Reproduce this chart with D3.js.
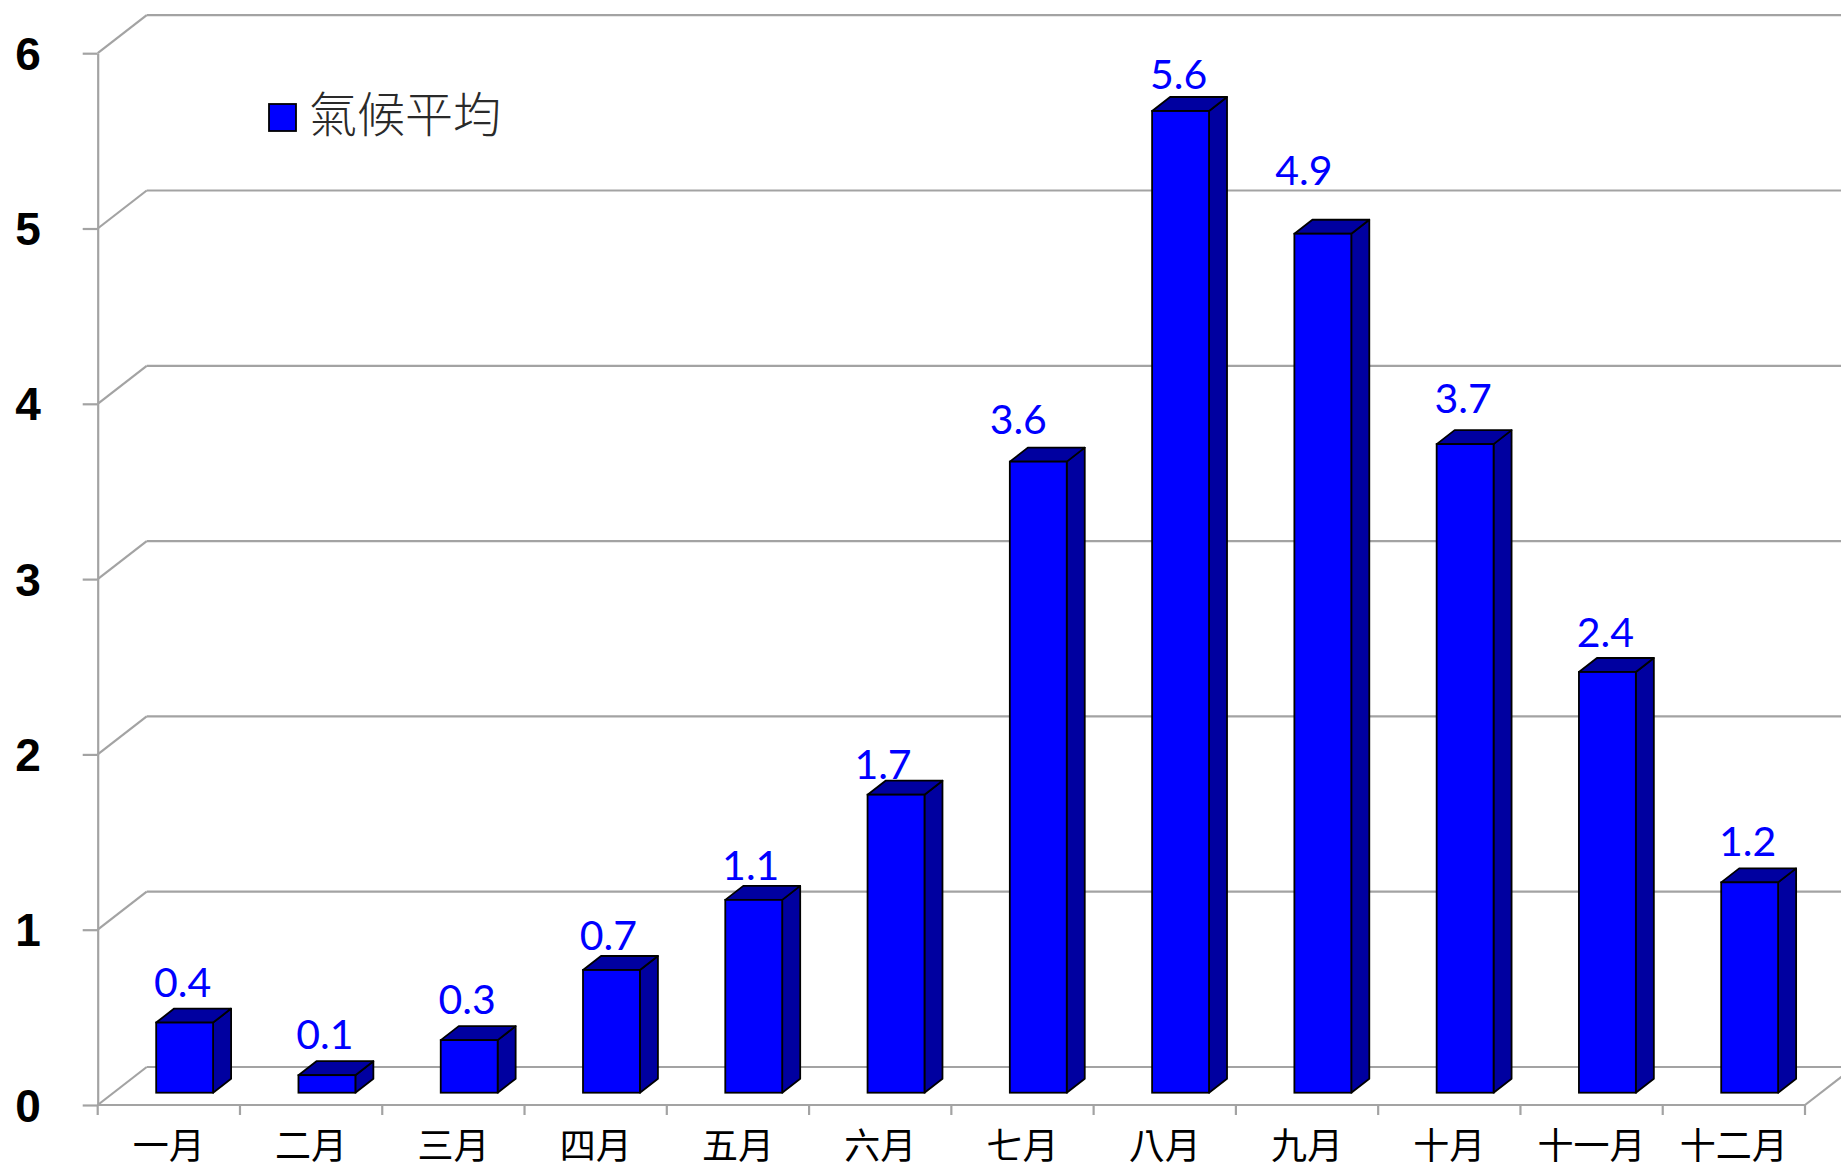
<!DOCTYPE html>
<html>
<head>
<meta charset="utf-8">
<script src="https://cdn.jsdelivr.net/npm/d3@7"></script>
<style>
  html, body { margin: 0; padding: 0; background: #ffffff; }
  svg { display: block; }
</style>
</head>
<body>
<svg id="chart" width="1841" height="1170"></svg>
<script>
// Monthly climate averages
const months = ["一月", "二月", "三月", "四月", "五月", "六月", "七月", "八月", "九月", "十月", "十一月", "十二月"];
const values = [0.4, 0.1, 0.3, 0.7, 1.1, 1.7, 3.6, 5.6, 4.9, 3.7, 2.4, 1.2];
const yTicks = [0, 1, 2, 3, 4, 5, 6];
const seriesName = "氣候平均";

// Per-label nudges [dx, dy] for the value labels
const labelNudge = [[-2, 0], [-2, 0], [-2, 0], [-3, 6], [-3, 6], [-13, 10], [-20, -2], [-2, 4], [-19, -23], [-2, -5], [-2, 1], [-2, 0]];

const W = 1841, H = 1170;
const svg = d3.select("#chart");

// Front plane of the 3D box
const x0 = 97.7, x1 = 1805, yBase = 1105, yTop = 53.2;
const depth = { x: 49, y: -38 };        // floor depth vector (front -> back wall)
const barShift = { x: 15.8, y: -12.3 }; // bar front face inset from front plane
const barDepth = { x: 18, y: -14 };     // bar thickness in depth

const y = d3.scaleLinear().domain([0, 6]).range([yBase, yTop]);
const x = d3.scaleBand().domain(months).range([x0, x1]).paddingInner(0).paddingOuter(0);
const slot = d3.scaleLinear().domain([0, months.length]).range([x0, x1]);

const gridColor = "#a3a3a3";
const frontFill = "#0000ff";
const darkFill = "#0000a0";

// Walls and gridlines
const walls = svg.append("g");
yTicks.forEach(t => {
  const yf = y(t);
  // left wall diagonal
  walls.append("line")
    .attr("x1", x0).attr("y1", yf)
    .attr("x2", x0 + depth.x).attr("y2", yf + depth.y)
    .attr("stroke", gridColor).attr("stroke-width", 2.2);
  // back wall gridline
  walls.append("line")
    .attr("x1", x0 + depth.x).attr("y1", yf + depth.y)
    .attr("x2", W + 5).attr("y2", yf + depth.y)
    .attr("stroke", gridColor).attr("stroke-width", 2.2);
});

// Floor: right diagonal
walls.append("line")
  .attr("x1", x1).attr("y1", yBase)
  .attr("x2", x1 + depth.x).attr("y2", yBase + depth.y)
  .attr("stroke", gridColor).attr("stroke-width", 2.2);

// Left value axis
const yAxis = d3.axisLeft(y)
  .tickValues(yTicks)
  .tickFormat(d3.format("d"))
  .tickSize(15)
  .tickSizeOuter(0)
  .tickPadding(42);
const gy = svg.append("g").attr("transform", `translate(${x0},0)`).call(yAxis);
gy.select(".domain").attr("stroke", gridColor).attr("stroke-width", 2.2);
gy.selectAll(".tick line").attr("stroke", gridColor).attr("stroke-width", 2.2);
gy.selectAll(".tick text")
  .attr("fill", "#000")
  .attr("text-anchor", "middle")
  .attr("x", 28 - x0)
  .attr("dy", "0.35em")
  .style("font-family", "'Liberation Sans', Arial, sans-serif")
  .style("font-weight", "bold")
  .style("font-size", "46px");

// Bottom category axis: front floor edge, ticks at slot boundaries
svg.append("line")
  .attr("x1", x0).attr("y1", yBase).attr("x2", x1).attr("y2", yBase)
  .attr("stroke", gridColor).attr("stroke-width", 2.2);
svg.append("g").selectAll("line")
  .data(d3.range(months.length + 1))
  .join("line")
  .attr("x1", d => slot(d)).attr("x2", d => slot(d))
  .attr("y1", yBase).attr("y2", yBase + 10)
  .attr("stroke", gridColor).attr("stroke-width", 2.2);

const xAxis = d3.axisBottom(x).tickSize(0).tickPadding(0);
const gx = svg.append("g").attr("transform", `translate(0,${yBase})`).call(xAxis);
gx.select(".domain").remove();
gx.selectAll(".tick text")
  .attr("y", 54)
  .attr("dy", 0)
  .attr("fill", "#000")
  .style("font-family", "'Noto Sans CJK TC', 'Noto Sans CJK SC', sans-serif")
  .style("font-size", "36px");

// Value labels (drawn beneath the bars)
const barW = x.bandwidth() * 0.4;
const cx = m => x(m) + x.bandwidth() / 2 + barShift.x;

svg.append("g").selectAll("text")
  .data(values)
  .join("text")
  .attr("x", (d, i) => cx(months[i]) + labelNudge[i][0])
  .attr("y", (d, i) => y(d) + barShift.y - 41 + 15 + labelNudge[i][1])
  .attr("text-anchor", "middle")
  .attr("fill", "#0000ff")
  .style("font-family", "Lato, 'Open Sans', sans-serif")
  .style("font-size", "41px")
  .text(d => d3.format(".1f")(d));

// 3D bars
const bars = svg.append("g").selectAll("g")
  .data(values)
  .join("g");

bars.each(function (d, i) {
  const g = d3.select(this);
  const left = cx(months[i]) - barW / 2;
  const right = left + barW;
  const bottom = yBase + barShift.y;
  const top = y(d) + barShift.y;
  const dx = barDepth.x, dy = barDepth.y;
  const sw = 1.8;

  // side face
  g.append("path")
    .attr("d", `M${right},${bottom} L${right + dx},${bottom + dy} L${right + dx},${top + dy} L${right},${top} Z`)
    .attr("fill", darkFill).attr("stroke", "#000").attr("stroke-width", sw).attr("stroke-linejoin", "round");
  // top face
  g.append("path")
    .attr("d", `M${left},${top} L${left + dx},${top + dy} L${right + dx},${top + dy} L${right},${top} Z`)
    .attr("fill", darkFill).attr("stroke", "#000").attr("stroke-width", sw).attr("stroke-linejoin", "round");
  // front face
  g.append("rect")
    .attr("x", left).attr("y", top)
    .attr("width", barW).attr("height", bottom - top)
    .attr("fill", frontFill).attr("stroke", "#000").attr("stroke-width", sw);
});

// Legend
const legend = svg.append("g");
legend.append("rect")
  .attr("x", 269).attr("y", 104).attr("width", 27).attr("height", 27)
  .attr("fill", frontFill).attr("stroke", "#000").attr("stroke-width", 1.8);
legend.append("text")
  .attr("x", 309).attr("y", 132)
  .attr("fill", "#2a2a2a")
  .style("font-family", "'Noto Sans CJK TC', 'Noto Sans CJK SC', sans-serif")
  .style("font-weight", "300")
  .style("font-size", "48px")
  .text(seriesName);
</script>
</body>
</html>
